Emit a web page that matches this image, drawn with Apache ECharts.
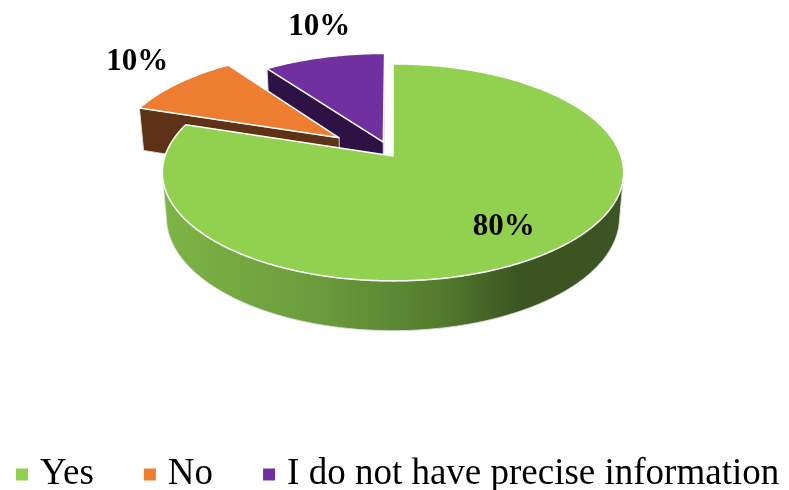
<!DOCTYPE html>
<html>
<head>
<meta charset="utf-8">
<script src="https://cdn.jsdelivr.net/npm/echarts@6/dist/echarts.min.js"></script>
<style>
  html, body { margin: 0; padding: 0; background: #ffffff; }
  #chart { width: 789px; height: 490px; }
</style>
</head>
<body>
<div id="chart"></div>
<script>
// ---- data ----
const categories = ['Yes', 'No', 'I do not have precise information'];
const shares = [80, 10, 10];
const shareLabels = ['80%', '10%', '10%'];

// ---- look ----
const topColors = ['#92d050', '#ed7d31', '#7030a0'];
const wallColors = ['#5f8c36', '#5e3216', '#2e1245'];
const explode = [0, 0.30, 0.14];                 // radial pull-out of each slice (disc radius = 1)
const labelPlace = [                              // label anchor: distance from centre, height above top face
  { r: 0.75, lift: 0 },
  { r: 1.575, lift: 0.045 },
  { r: 1.218, lift: 0.137 }
];

// perspective camera looking down at the disc
const view = { cx: 393, cy: 156, focal: 1336, dist: 5.86, elev: Math.asin(0.465), thick: 0.225 };
const SIN_E = Math.sin(view.elev), COS_E = Math.cos(view.elev);
const CAM_Z = view.dist * COS_E;
const D2R = Math.PI / 180;

function project(X, Y, Z) {
  const depth = view.dist - Y * SIN_E - Z * COS_E;
  const up = Y * COS_E - Z * SIN_E;
  return [view.cx + view.focal * X / depth, view.cy - view.focal * up / depth];
}

// angles (degrees, clockwise from the far side) from the shares
const total = shares.reduce((a, b) => a + b, 0);
const startDeg = [], endDeg = [];
(function () {
  let acc = 0;
  shares.forEach((v, i) => {
    startDeg[i] = acc / total * 360;
    acc += v;
    endDeg[i] = acc / total * 360;
  });
})();

// paint order: slices further from the viewer first
const midZ = shares.map((v, i) => -Math.cos((startDeg[i] + endDeg[i]) / 2 * D2R));
const order = shares.map((v, i) => i).sort((a, b) => midZ[a] - midZ[b]);
const rank = [];
order.forEach((idx, k) => { rank[idx] = k; });

const leftX = project(-1, 0, 0)[0], rightX = project(1, 0, 0)[0];
const greenSide = {
  type: 'linear', x: leftX, y: 0, x2: rightX, y2: 0, global: true,
  colorStops: [
    { offset: 0, color: '#7db446' },
    { offset: 0.35, color: '#6a9a3c' },
    { offset: 0.6, color: '#537c2e' },
    { offset: 0.78, color: '#3b5421' },
    { offset: 1, color: '#3d5424' }
  ]
};

function renderSlice(i) {
  return function (params, api) {
    const a0 = startDeg[i] * D2R, a1 = endDeg[i] * D2R, mid = (a0 + a1) / 2;
    const ox = Math.sin(mid) * explode[i], oz = -Math.cos(mid) * explode[i];
    const h = view.thick;
    const rim = (t, Y) => project(ox + Math.sin(t), Y, oz - Math.cos(t));
    const base = rank[i] * 10;
    const sideFill = i === 0 ? greenSide : wallColors[i];
    const wallStroke = 'rgba(225,225,225,0.9)';
    const children = [];

    // radial walls facing the camera
    [[a0, -1], [a1, 1]].forEach(([t, sgn]) => {
      const nx = sgn * Math.cos(t), nz = sgn * Math.sin(t);
      const facing = -ox * nx + (CAM_Z - oz) * nz;
      if (facing > 1e-6) {
        children.push({
          type: 'polygon', z2: base + 1,
          shape: { points: [project(ox, 0, oz), rim(t, 0), rim(t, -h), project(ox, -h, oz)] },
          style: { fill: wallColors[i], stroke: wallStroke, lineWidth: 1 }
        });
      }
    });

    // outer curved wall, only the stretches turned towards the camera
    const steps = Math.max(2, Math.ceil((a1 - a0) / D2R * 2));
    let run = [];
    const flush = () => {
      if (run.length > 1) {
        const pts = run.map(t => rim(t, 0)).concat(run.slice().reverse().map(t => rim(t, -h)));
        children.push({
          type: 'polygon', z2: base + 2,
          shape: { points: pts },
          style: { fill: sideFill, stroke: wallStroke, lineWidth: 1 }
        });
      }
      run = [];
    };
    for (let k = 0; k <= steps; k++) {
      const t = a0 + (a1 - a0) * k / steps;
      const facing = -1 - ox * Math.sin(t) - (CAM_Z - oz) * Math.cos(t);
      if (facing > 0) run.push(t); else flush();
    }
    flush();

    // top face
    const topPts = [project(ox, 0, oz)];
    for (let k = 0; k <= steps; k++) topPts.push(rim(a0 + (a1 - a0) * k / steps, 0));
    children.push({
      type: 'polygon', z2: base + 5,
      shape: { points: topPts },
      style: { fill: topColors[i], stroke: '#ffffff', lineWidth: 1.5, lineJoin: 'round' }
    });

    // value label
    const lp = labelPlace[i];
    const at = project(Math.sin(mid) * lp.r, lp.lift, -Math.cos(mid) * lp.r);
    children.push({
      type: 'text', z2: 100,
      style: {
        text: shareLabels[i], x: at[0], y: at[1],
        align: 'center', verticalAlign: 'middle',
        fontFamily: 'Liberation Serif', fontWeight: 'bold', fontSize: 31, fill: '#000000'
      }
    });

    return { type: 'group', children };
  };
}

const chart = echarts.init(document.getElementById('chart'), null, { renderer: 'canvas' });
chart.setOption({
  animation: false,
  backgroundColor: '#ffffff',
  color: topColors,
  legend: {
    data: categories,
    left: 16,
    right: 0,
    top: 456,
    padding: 0,
    icon: 'rect',
    itemWidth: 12,
    itemHeight: 12,
    itemGap: 50,
    selectedMode: false,
    textStyle: { fontFamily: 'Liberation Serif', fontSize: 37, color: '#000000', padding: [0, 0, 0, 7] }
  },
  series: categories.map((name, i) => ({
    type: 'custom',
    name,
    coordinateSystem: 'none',
    silent: true,
    itemStyle: { color: topColors[i] },
    data: [shares[i]],
    renderItem: renderSlice(i)
  }))
});
</script>
</body>
</html>
